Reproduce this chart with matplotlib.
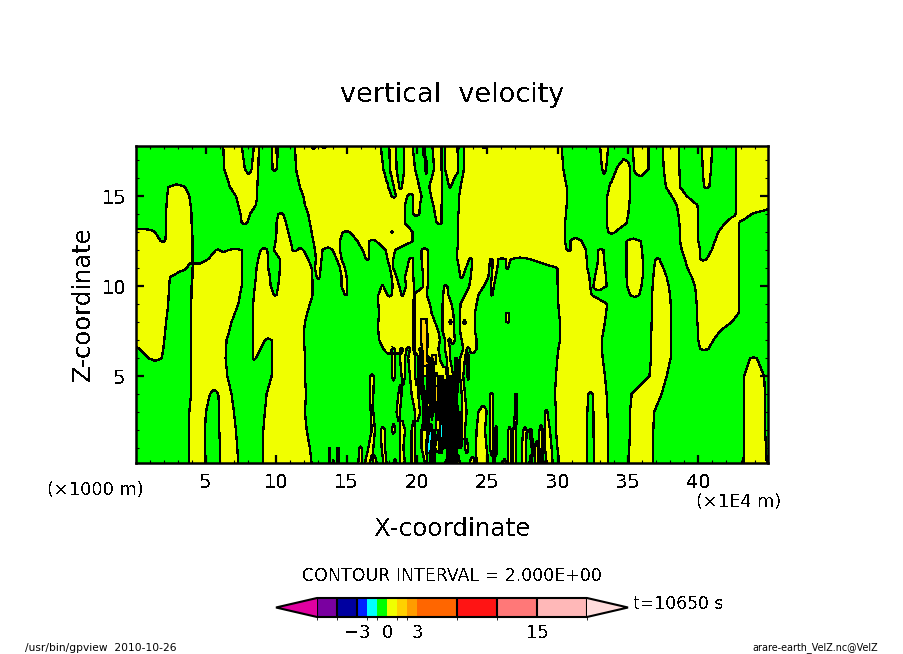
import numpy as np
import matplotlib
matplotlib.use('Agg')
import matplotlib.pyplot as plt
from matplotlib.colors import ListedColormap, BoundaryNorm

plt.rcParams['font.family'] = 'DejaVu Sans'
plt.rcParams['text.antialiased'] = False

# heights of the rows (x1000 m)
z_rows = [17.8, 16.5, 15.5, 15, 14.5, 14, 13.5, 13, 12.5, 12, 11.5, 11, 10.5, 10,
          9.5, 9, 8.5, 8, 7.5, 7, 6.5, 6, 5, 4, 3, 2, 1, 0.17]

# x spans (x1E4 m) where w > 0 on each row, from top to bottom
yellow_spans = [
    [(6.23,7.54),(8.41,8.77),(9.67,10.14),(11.33,12.46),(12.87,13.15),(13.63,17.42),(18.03,18.51),(19.10,19.69),(20.40,20.57),(21.11,21.75),(21.99,22.87),(23.34,24.60),(24.95,30.28),(33.01,33.60),(35.33,36.45),(37.46,38.65),(40.24,40.99),(42.65,46)],
    [(6.30,7.77),(8.25,8.72),(9.74,10.02),(11.40,17.61),(18.08,18.55),(19.10,19.86),(20.57,20.73),(21.21,21.75),(21.99,22.94),(23.34,30.40),(33.15,33.44),(34.19,35.14),(35.43,36.45),(37.54,38.65),(40.31,40.90),(42.65,46)],
    [(2.32,3.51),(6.71,8.65),(11.68,17.96),(18.36,18.74),(18.93,20.17),(20.88,21.78),(22.30,22.39),(23.10,30.64),(33.67,35.14),(37.70,38.70),(40.40,40.78),(42.65,46)],
    [(2.25,3.82),(7.13,8.65),(11.92,18.20),(18.51,19.31),(19.74,20.33),(21.00,21.78),(23.00,30.64),(33.53,35.14),(38.10,39.17),(42.65,46)],
    [(2.20,3.91),(7.30,8.55),(12.04,19.15),(19.74,20.21),(21.16,21.75),(23.01,30.64),(33.48,35.09),(38.46,39.93),(42.65,46)],
    [(2.16,3.98),(7.46,8.13),(10.14,10.50),(12.27,19.15),(19.74,20.17),(21.28,21.75),(22.94,30.59),(33.48,35.02),(38.58,40.00),(42.65,43.79)],
    [(2.16,3.98),(7.54,7.94),(10.02,10.69),(12.39,19.15),(21.40,21.75),(22.94,30.52),(33.48,34.90),(38.65,40.00),(41.90,42.91)],
    [(-1,1.37),(2.16,4.03),(10.02,10.85),(12.51,14.72),(15.24,18.13),(18.32,19.69),(22.94,30.52),(33.60,34.08),(38.70,40.00),(41.42,42.91)],
    [(-1,1.78),(2.11,4.05),(9.95,11.02),(12.63,14.53),(15.76,16.61),(17.09,19.69),(22.94,30.52),(30.92,31.71),(34.90,35.90),(38.70,40.00),(41.18,42.91)],
    [(-1,4.05),(5.71,5.95),(6.59,7.54),(8.89,9.36),(9.83,11.16),(11.49,11.92),(12.75,13.29),(14.00,14.53),(16.14,16.61),(17.77,18.44),(20.33,20.76),(22.87,30.64),(30.92,32.01),(32.89,33.25),(34.90,36.00),(38.82,40.12),(40.95,42.91)],
    [(-1,4.05),(5.17,7.54),(8.72,9.43),(10.26,12.27),(12.82,13.22),(14.29,14.64),(16.37,16.61),(17.91,18.32),(19.45,19.74),(20.33,20.76),(22.87,23.72),(23.89,25.19),(25.36,25.78),(26.30,26.66),(27.99,32.06),(32.89,33.29),(34.90,36.04),(36.97,37.23),(39.05,40.12),(40.59,42.91)],
    [(-1,3.63),(4.05,7.54),(8.60,9.43),(10.26,12.51),(12.75,13.15),(14.53,14.88),(18.08,18.32),(19.31,19.74),(20.38,20.81),(23.00,23.48),(23.89,25.14),(25.36,25.71),(26.33,26.49),(29.98,32.11),(32.77,33.36),(34.90,36.04),(36.85,37.51),(39.22,42.91)],
    [(-1,2.44),(4.05,7.54),(8.55,9.55),(10.21,12.56),(12.87,13.10),(14.64,15.00),(18.20,18.55),(19.15,19.74),(20.45,20.81),(23.06,23.25),(23.82,25.07),(25.31,25.59),(29.98,32.25),(32.65,33.44),(34.90,36.04),(36.80,37.75),(39.53,42.91)],
    [(-1,2.39),(3.98,7.54),(8.48,9.60),(10.14,12.58),(14.64,15.05),(17.49,17.61),(18.27,18.74),(19.22,19.79),(20.45,20.76),(21.92,22.16),(23.72,24.76),(25.26,25.47),(30.00,32.30),(32.54,33.48),(34.95,35.95),(36.75,37.89),(39.76,42.91)],
    [(-1,2.35),(3.98,7.42),(8.41,9.83),(10.02,12.58),(14.88,15.00),(17.25,17.89),(18.20,18.91),(19.03,19.79),(19.86,20.69),(21.87,22.23),(23.41,24.36),(25.24,25.36),(30.02,32.42),(35.14,35.80),(36.71,37.99),(39.83,42.91)],
    [(-1,2.32),(3.94,7.30),(8.36,12.39),(17.25,19.74),(19.88,20.92),(21.82,22.46),(23.10,24.24),(30.05,33.53),(36.68,38.03),(39.88,42.91)],
    [(-1,2.25),(3.94,7.06),(8.36,12.20),(17.32,19.74),(19.86,21.04),(21.82,22.58),(23.06,24.12),(26.33,26.56),(30.09,33.44),(36.68,38.03),(39.93,42.87)],
    [(-1,2.16),(3.94,6.82),(8.36,12.04),(17.25,19.74),(19.86,21.28),(21.82,22.30),(22.46,22.63),(23.06,23.29),(23.48,24.12),(26.33,26.56),(30.17,33.36),(36.68,38.03),(39.93,42.37)],
    [(-1,2.11),(3.94,6.66),(8.36,11.97),(17.25,19.74),(19.86,21.52),(21.82,22.63),(23.06,24.12),(30.17,33.25),(36.66,38.03),(39.98,41.54)],
    [(-1,2.04),(3.94,6.47),(8.36,9.19),(9.67,11.97),(17.32,19.74),(19.86,21.63),(21.99,22.23),(22.39,22.70),(23.18,24.24),(30.17,33.13),(36.64,38.03),(40.00,41.07)],
    [(0.31,1.97),(3.94,6.42),(8.32,8.89),(9.67,12.01),(17.61,18.20),(18.44,18.79),(19.03,19.26),(19.50,19.74),(19.86,20.17),(20.26,21.52),(21.99,22.35),(23.29,23.53),(23.77,24.24),(30.05,33.15),(36.64,38.03),(40.12,40.71)],
    [(0.90,1.85),(3.94,6.40),(8.32,8.55),(9.67,12.04),(18.20,18.44),(18.79,19.15),(19.38,19.86),(20.09,20.57),(20.92,21.63),(22.11,22.35),(23.06,23.41),(23.53,23.72),(29.98,33.20),(36.64,38.03),(43.67,44.15)],
    [(3.94,6.52),(9.67,12.04),(16.66,16.94),(18.20,18.44),(18.91,19.15),(19.50,19.86),(20.09,20.33),(20.92,21.35),(21.45,22.11),(22.23,22.58),(23.06,23.29),(23.58,23.72),(29.88,33.36),(36.52,37.75),(43.25,44.67)],
    [(3.94,5.28),(5.88,6.82),(9.31,12.11),(16.66,16.90),(18.67,18.91),(19.62,20.09),(20.33,20.57),(20.92,21.28),(21.63,21.99),(22.11,22.58),(23.18,23.41),(25.19,25.38),(26.97,27.09),(29.81,32.18),(32.49,33.48),(35.26,37.39),(43.25,44.74)],
    [(3.82,5.00),(5.95,6.99),(9.19,12.04),(16.71,16.90),(18.55,18.79),(19.86,20.21),(20.57,21.16),(21.52,21.87),(22.35,22.82),(23.18,23.53),(24.36,24.95),(25.19,25.38),(26.97,27.13),(29.10,29.27),(29.88,32.11),(32.54,33.53),(35.14,36.85),(43.25,44.74)],
    [(3.82,4.93),(5.95,7.13),(9.08,12.16),(16.78,17.01),(17.42,17.73),(18.20,18.44),(18.79,19.15),(19.62,19.86),(20.33,20.92),(21.52,21.87),(22.82,23.41),(24.24,24.83),(25.19,25.43),(25.55,25.71),(26.49,26.66),(26.85,27.04),(27.56,27.80),(27.99,28.15),(28.70,28.93),(29.10,29.45),(29.88,32.11),(32.54,33.60),(35.14,36.80),(43.25,44.74)],
    [(3.82,4.93),(6.00,7.23),(9.03,12.39),(13.74,13.82),(14.34,14.43),(15.90,16.07),(16.54,16.90),(17.49,17.73),(18.79,19.03),(19.62,19.86),(20.33,20.81),(21.28,21.63),(22.46,22.82),(23.41,23.65),(24.19,24.95),(25.19,25.43),(25.55,25.71),(26.49,26.66),(26.85,27.04),(27.44,27.75),(28.15,28.32),(28.39,28.63),(28.70,28.93),(29.10,29.57),(29.98,32.11),(32.58,33.60),(35.09,36.80),(43.25,44.81)],
    [(3.82,4.93),(6.00,7.30),(9.03,12.51),(13.74,13.84),(14.00,14.10),(14.34,14.45),(15.83,16.07),(16.30,16.66),(16.90,17.13),(17.61,17.84),(18.32,18.55),(18.79,19.15),(19.62,19.86),(20.57,20.81),(21.99,22.23),(22.82,23.06),(23.77,24.12),(24.24,25.07),(25.43,25.55),(26.09,26.33),(26.49,26.66),(26.85,27.04),(27.44,27.75),(27.99,28.15),(28.39,28.63),(28.74,28.93),(29.22,29.64),(30.12,32.06),(32.58,33.60),(35.09,36.80),(43.20,44.86)],
]

# the strong cells in the middle: row height, x from, x to, w
# |w| = 9 marks the cells so tightly packed that only their contour lines show
hot_z = [8, 7.5, 7, 6.5, 6, 6, 6, 5, 5, 5, 5, 4, 4, 4, 4, 4, 4, 3, 3, 3, 3, 3, 3,
         2, 2, 2, 2, 2, 2, 1, 1, 1, 1, 1, 0.17, 0.17]
hot_x0 = [20.28, 20.26, 20.26, 20.33, 20.21, 20.45, 21.04, 20.21, 20.72, 21.04, 22.70,
          21.28, 21.52, 21.75, 21.99, 22.23, 20.92, 20.45, 21.35, 21.75, 21.99, 22.23, 22.82,
          20.81, 21.63, 21.99, 22.16, 22.58, 22.70, 20.69, 21.04, 21.59, 22.16, 22.58, 20.92, 22.35]
hot_x1 = [20.69, 20.73, 20.76, 20.73, 20.40, 20.73, 21.35, 20.45, 20.90, 21.21, 22.94,
          21.52, 21.75, 21.85, 22.16, 22.65, 21.28, 20.73, 21.52, 21.85, 22.16, 22.82, 22.92,
          21.04, 21.85, 22.16, 22.58, 22.70, 23.20, 21.04, 21.28, 21.80, 22.58, 22.72, 21.04, 22.70]
hot_w = [1.5, 1.5, 1.6, 1.6, 9, 1.8, 1.5, 9, 5, 9, 9,
         1.8, 9, -1.5, 5, 9, 9, 9, 1.8, -1.5, 5, 9, -1.5,
         -1.5, -1.5, 5, 9, 5, 9, -1.5, -9, -1.5, 9, 5, 9, 9]

levels = [-7, -5, -3, -2, -1, 0, 1, 2, 3, 7, 11, 15, 20]
colors = ['#7A00A0', '#0000A0', '#0020FF', '#00FFFF', '#00FF00', '#F0FF00',
          '#FFD000', '#FF9C00', '#FF6600', '#FF1414', '#FF7878', '#FFB8B8']
line_levels = [-5, -3, -1, 0, 1, 3, 5, 7]

x_grid = np.linspace(0, 45, 1801)


def row_field(spans):
    # small signed distance to the nearest span edge, so that the zero line
    # moves smoothly from one row to the next
    edges = np.ravel(spans)
    dist = np.abs(x_grid[:, None] - edges).min(axis=1)
    inside = np.zeros(x_grid.size, dtype=bool)
    for a, b in spans:
        inside |= (x_grid >= a) & (x_grid <= b)
    return np.where(inside, dist, -dist) * 0.02


w = np.array([row_field(s) for s in yellow_spans])
for z, x0, x1, val in zip(hot_z, hot_x0, hot_x1, hot_w):
    cols = np.where((x_grid >= x0) & (x_grid <= x1))[0]
    if abs(val) == 9:
        # teeth about a pixel apart: the lines merge into a black mass
        w[z_rows.index(z), cols] = val * np.where((cols // 3) % 2 == 0, 1, -1)
    else:
        w[z_rows.index(z), cols] = val

W, H = 904, 654
fig = plt.figure(figsize=(W / 100, H / 100), dpi=100)
ax = fig.add_axes([136 / W, 1 - 463 / H, 632 / W, 317 / H])

cmap = ListedColormap(colors)
cmap.set_under('#E000A0')
cmap.set_over('#FFDCDC')
norm = BoundaryNorm(levels, cmap.N)
cf = ax.contourf(x_grid, z_rows, w, levels=levels, cmap=cmap, norm=norm,
                 extend='both', antialiased=False)
ax.contour(x_grid, z_rows, w, levels=line_levels, colors='k', linewidths=0.9,
           linestyles='solid', antialiased=False)

ax.set_xlim(0.03, 44.95)
ax.set_ylim(0.17, 17.78)
ax.set_xticks(range(5, 45, 5))
ax.set_yticks([5, 10, 15])
ax.set_xticks(range(1, 45), minor=True)
ax.set_yticks(range(1, 18), minor=True)
ax.tick_params(which='major', direction='in', top=True, right=True, length=6, width=1.6,
               labelsize=14, pad=7)
ax.tick_params(which='minor', direction='in', top=True, right=True, length=2.5, width=0.8)
for s in ax.spines.values():
    s.set_linewidth(1.8)


def px_text(x, y, s, **kw):
    fig.text(x / W, 1 - y / H, s, ha='center', va='center', **kw)


px_text(452, 95, 'vertical  velocity', fontsize=19.5)
px_text(452, 529, 'X-coordinate', fontsize=17.7)
px_text(83, 304, 'Z-coordinate', fontsize=17.5, rotation=90)
px_text(95, 490, '(×1000 m)', fontsize=12.8)
px_text(739, 502, '(×1E4 m)', fontsize=12.8)
px_text(452, 576, 'CONTOUR INTERVAL = 2.000E+00', fontsize=12.5)
px_text(678, 604, 't=10650 s', fontsize=12.3)
px_text(101, 648, '/usr/bin/gpview  2010-10-26', fontsize=7.7, antialiased=True)
px_text(815, 648, 'arare-earth_VelZ.nc@VelZ', fontsize=6.9, antialiased=True)

# the colorbar axes also holds the two end triangles
cax = fig.add_axes([276 / W, 1 - 617 / H, 352 / W, 19 / H])
cbar = fig.colorbar(cf, cax=cax, orientation='horizontal', spacing='proportional',
                    extendfrac=0.152, ticks=[-3, 0, 3, 15])
cbar.ax.tick_params(length=0, labelsize=13, pad=5)
cbar.ax.set_xticklabels(['−3', '0', '3', '15'])
cbar.outline.set_linewidth(1.5)
cbar.ax.vlines([-7, -5, -3, 7, 11, 15, 20], 0, 1, colors='k', linewidth=1.5,
               transform=cbar.ax.get_xaxis_transform())

fig.savefig('out.png', dpi=100)
